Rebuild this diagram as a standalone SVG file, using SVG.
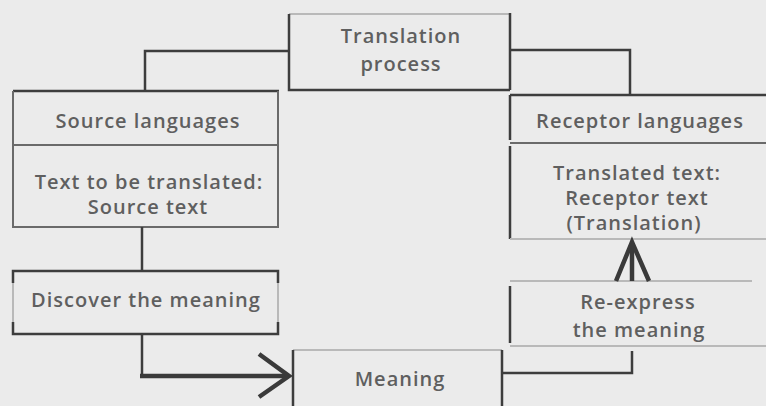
<svg xmlns="http://www.w3.org/2000/svg" width="766" height="406" viewBox="0 0 766 406">
<style>
.t{font-family:"Open Sans","Liberation Sans",sans-serif;font-size:20px;font-weight:600;letter-spacing:1px;fill:#5f5f5f;text-anchor:middle}
.dk{stroke:#3d3d3d;stroke-width:2.5;fill:none}
.md{stroke:#6a6a6a;stroke-width:2;fill:none}
.lt{stroke:#b9b9b9;stroke-width:2;fill:none}
.th{stroke:#3a3a3a;stroke-width:4.5;fill:none;stroke-linejoin:miter;stroke-linecap:butt}
</style>
<rect width="766" height="406" fill="#ebebeb"/>
<g id="node-process">
<path class="lt" d="M289,14 H510"/>
<path class="dk" d="M289,14 V90 H510 M510,13 V90"/>
<text class="t" x="401" y="43">Translation</text>
<text class="t" x="401" y="71">process</text>
</g>
<g id="node-source">
<path class="dk" d="M13,91 H279"/>
<path class="md" d="M13,91 V227 H278 V91 M13,145 H278"/>
<text class="t" x="148" y="128">Source languages</text>
<text class="t" x="149" y="189">Text to be translated:</text>
<text class="t" x="148" y="214">Source text</text>
</g>
<g id="node-receptor">
<path class="dk" d="M510,95 H766 M510,95 V140 M510,146 V239"/>
<path class="md" d="M510,143 H766"/>
<path class="lt" d="M510,239 H766"/>
<text class="t" x="640" y="128">Receptor languages</text>
<text class="t" x="637" y="180">Translated text:</text>
<text class="t" x="637" y="205">Receptor text</text>
<text class="t" x="634" y="230">(Translation)</text>
</g>
<g id="node-discover">
<path class="lt" d="M13,271 V334 M278,271 V334"/>
<path class="dk" d="M13,283 V271 H278 V283 M13,322 V334 H278 V322"/>
<text class="t" x="146" y="307">Discover the meaning</text>
</g>
<g id="node-meaning">
<path class="lt" d="M293,350 H502"/>
<path class="dk" d="M293,350 V406 M502,350 V406"/>
<text class="t" x="400" y="386">Meaning</text>
</g>
<g id="node-reexpress">
<path class="lt" d="M510,281 H752 M510,346 H766"/>
<path class="dk" d="M510,286 V343"/>
<text class="t" x="638" y="309">Re-express</text>
<text class="t" x="639" y="337">the meaning</text>
</g>
<g id="connectors">
<path class="dk" d="M289,51 H145 V91"/>
<path class="dk" d="M510,50 H630 V95"/>
<path class="dk" d="M142,227 V271"/>
<path class="dk" d="M142,334 V376"/>
<path class="th" d="M140,376 H288"/>
<path class="th" d="M259,354 L289,376 L259,397"/>
<path class="dk" d="M502,373 H632 V351"/>
<path class="th" d="M632,281 V244"/>
<path class="th" d="M616,281 L632,242 L649,281"/>
</g>
</svg>
